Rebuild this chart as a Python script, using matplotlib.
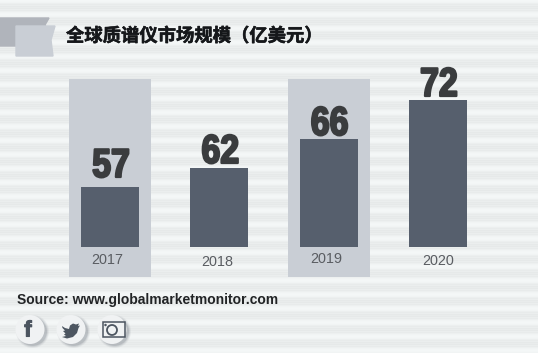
import numpy as np
import matplotlib
matplotlib.use('Agg')
import matplotlib.pyplot as plt
import matplotlib.patheffects as pe
from matplotlib.patches import Polygon, Ellipse, Rectangle
from matplotlib.transforms import Affine2D

plt.rcParams['font.family'] = ['Noto Sans CJK SC', 'DejaVu Sans']

years = ['2017', '2018', '2019', '2020']
labels = ['57', '62', '66', '72']
# drawn heights, the bars are not to scale with the labels
heights = [60, 79, 108, 147]
shaded = [0, 2]

W, H = 538, 353
step = 109.3
x0 = 110
base = 247
label_gap = [10, 5, 4, 4]
year_x = [107, 217, 326, 438]
year_y = [260, 261, 258.5, 260.5]


class Narrow(pe.AbstractPathEffect):
    # squeezes text sideways about cx, there is no Impact here
    def __init__(self, cx, sx, lw, color):
        super().__init__()
        self.cx, self.sx, self.lw, self.color = cx, sx, lw, color

    def draw_path(self, renderer, gc, tpath, affine, rgbFace=None):
        gc0 = renderer.new_gc()
        gc0.copy_properties(gc)
        gc0.set_linewidth(self.lw)
        gc0.set_foreground(self.color)
        t = affine + Affine2D().translate(-self.cx, 0).scale(self.sx, 1).translate(self.cx, 0)
        renderer.draw_path(gc0, tpath, t, rgbFace)
        gc0.restore()


fig = plt.figure(figsize=(W/100, H/100), dpi=100)
fig.patch.set_facecolor('#eef1f2')

# stripes
bg = fig.add_axes([0, 0, 1, 1])
bg.axis('off')
stripe = np.array([247, 246, 244, 239, 235, 238, 233, 236, 233, 238, 235, 240, 244, 246])/255
rows = np.tile(stripe, H//len(stripe)+1)[:H]
img = np.dstack([rows*0.99, rows, rows]).reshape(-1, 1, 3)
bg.imshow(img, aspect='auto', interpolation='nearest')

ax = fig.add_axes([0, 0, 1, 1])
ax.patch.set_alpha(0)
ax.set_xlim(-x0/step, (W-x0)/step)
ax.set_ylim(base-H, base)
ax.axis('off')


def px(x):
    return (x-x0)/step


def py(y):
    return base-y


pos = np.arange(len(years))
ax.bar(shaded, 198, width=82/step, bottom=-30, color='#c9ced5', zorder=1)
ax.bar(pos, heights, width=58/step, color='#565f6d', zorder=2)

for i in pos:
    cx = ax.transData.transform((i+1/step, 0))[0]
    ax.text(i+1/step, heights[i]+label_gap[i], labels[i], ha='center', va='baseline', fontsize=29,
            fontweight='bold', family='Liberation Sans', color='#3a3c3e', zorder=3,
            path_effects=[Narrow(cx, 0.84, 1.6, '#3a3c3e')])
    ax.text(px(year_x[i]), py(year_y[i]+0.5), years[i], ha='center', va='center', fontsize=10.4,
            family='Liberation Sans', color='#5a5d62', zorder=3)

# title flag
ax.add_patch(Polygon([(px(a), py(b)) for a, b in [(0, 18), (49, 18), (45, 25), (49, 33), (49, 46), (0, 46)]], color='#b0b4bb', zorder=1))
ax.add_patch(Polygon([(px(a), py(b)) for a, b in [(16, 26), (55, 26), (51, 40), (53, 56), (16, 56)]], color='#c9ced5', zorder=1))
ax.text(px(66), py(36), '全球质谱仪市场规模（亿美元）', ha='left', va='center', fontsize=13.2, fontweight='bold', color='#15171a', zorder=3,
        path_effects=[pe.withStroke(linewidth=0.4, foreground='#15171a')])

ax.text(px(17), py(300), 'Source: www.globalmarketmonitor.com', ha='left', va='center', fontsize=10, fontweight='bold',
        family='Liberation Sans', color='#222426', zorder=3)

# social icons
for cx in [30, 71, 112]:
    for d, a in [(33, 0.12), (31, 0.2), (29, 0.35)]:
        ax.add_patch(Ellipse((px(cx+2.5), py(331.5)), d/step, d, color='#8f959d', alpha=a, lw=0, zorder=2))
    ax.add_patch(Ellipse((px(cx), py(329.5)), 29/step, 29, color='#f0f2f3', lw=0, zorder=3))
ax.text(px(28), py(331), 'f', ha='center', va='center', fontsize=16, fontweight='bold', family='Liberation Sans', color='#4c5560', zorder=4,
        path_effects=[pe.withStroke(linewidth=0.8, foreground='#4c5560')])
bird = [(62, 326), (65, 328), (69, 329), (70, 325.5), (73, 323.5), (76, 324.5), (79, 323.5), (78, 326), (80, 325.5),
        (78.5, 328), (77, 333), (73, 337), (67, 338.5), (62, 337), (66, 336), (64, 334.5), (65.5, 333.5), (63, 331),
        (65, 330.5), (62.5, 328)]
ax.add_patch(Polygon([(px(a), py(b)) for a, b in bird], color='#4c5560', lw=0, zorder=4))
ax.add_patch(Rectangle((px(103), py(337)), 22/step, 15, fill=False, ec='#4c5560', lw=1.1, zorder=4))
ax.add_patch(Ellipse((px(112), py(330)), 10/step, 10, fill=False, ec='#4c5560', lw=1.3, zorder=4))
ax.add_patch(Ellipse((px(105.5), py(325)), 2.5/step, 2.5, color='#4c5560', lw=0, zorder=4))

fig.savefig('out.png', dpi=100, facecolor=fig.get_facecolor())
